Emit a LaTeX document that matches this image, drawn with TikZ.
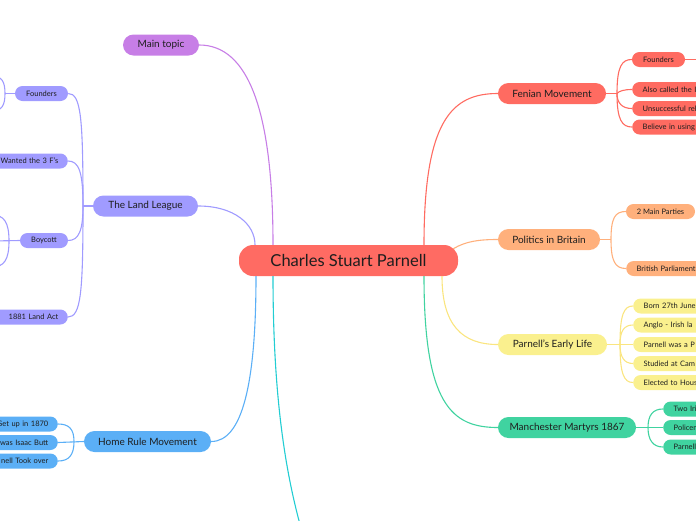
\documentclass[tikz,border=0pt]{standalone}
\usepackage{fontspec}
\setmainfont{Lato}
\definecolor{cred}{HTML}{FF6B63}
\definecolor{cpurple}{HTML}{C77EE6}
\definecolor{cleague}{HTML}{A09BFF}
\definecolor{chome}{HTML}{5BAFF6}
\definecolor{ccyan}{HTML}{22CDD3}
\definecolor{cfen}{HTML}{FF6B61}
\definecolor{corange}{HTML}{FFB07C}
\definecolor{cyellow}{HTML}{FAF08E}
\definecolor{cgreen}{HTML}{40D3A0}
\definecolor{ctext}{HTML}{1E1E1E}
\tikzset{
  central/.style={fill=cred, text=ctext, rounded corners=14pt, minimum width=219pt, minimum height=31pt, inner sep=0pt, font=\fontsize{16.5}{16.5}\selectfont},
  topic/.style={text=ctext, rounded corners=10.5pt, minimum height=21pt, inner sep=0pt, font=\fontsize{10}{10}\selectfont},
  sub/.style={text=ctext, rounded corners=7.5pt, minimum height=15pt, inner ysep=0pt, font=\fontsize{7.5}{7.5}\selectfont},
  subl/.style={sub, anchor=east, text width=72pt, align=right, inner xsep=9.5pt},
  subr/.style={sub, anchor=west, text width=90pt, align=left, inner xsep=10.5pt},
  subc/.style={sub, inner xsep=0pt},
  link/.style={line width=1.1pt}
}
\begin{document}
\begin{tikzpicture}[x=1pt,y=-1pt]
\useasboundingbox (0,0) rectangle (696,520);
\clip (0,0) rectangle (696,520);

% central
\node[central] (c) at (348.5,260.5) {Charles Stuart Parnell};

% topics
\node[topic, fill=cpurple, minimum width=76pt] (mt) at (161,45) {Main topic};
\node[topic, fill=cleague, minimum width=105pt] (ll) at (145.5,206) {The Land League};
\node[topic, fill=chome, minimum width=127pt] (hr) at (147.5,441.5) {Home Rule Movement};
\node[topic, fill=cfen, minimum width=108pt] (fm) at (552,93.5) {Fenian Movement};
\node[topic, fill=corange, minimum width=102pt] (pb) at (549,239.5) {Politics in Britain};
\node[topic, fill=cyellow, minimum width=109pt] (el) at (552.5,344.5) {Parnell's Early Life};
\node[topic, fill=cgreen, minimum width=138pt] (mm) at (567,427.5) {Manchester Martyrs 1867};
\coordinate (bt) at (303,535);

% topic connectors
\draw[link, cpurple] ([xshift=-75.5pt]c.north) .. controls (273,110) and (248,45) .. (mt.east);
\draw[link, cleague] ([xshift=-93.5pt]c.north) .. controls (255,224) and (234,206) .. (ll.east);
\draw[link, chome] ([xshift=-92.5pt]c.south) .. controls (256,385) and (242,441.5) .. (hr.east);
\draw[link, ccyan] ([xshift=-75.5pt]c.south) .. controls (273,390) and (284,470) .. (bt);
\draw[link, cfen] ([xshift=75.5pt]c.north) .. controls (424,120) and (452,93.5) .. (fm.west);
\draw[link, corange] ([xshift=-5pt,yshift=-4pt]c.north east) .. controls (466,241) and (480,239.5) .. (pb.west);
\draw[link, cyellow!90!orange] ([xshift=93.5pt]c.south) .. controls (442,325) and (462,344.5) .. (el.west);
\draw[link, cgreen] ([xshift=75.5pt]c.south) .. controls (424,405) and (452,427.5) .. (mm.west);

% Land League children
\node[subc, fill=cleague, minimum width=53pt] (lf) at (41.5,93.5) {Founders};
\node[subl, fill=cleague] (lw) at (68,161) {Wanted the 3 F's};
\node[subc, fill=cleague, minimum width=48pt] (lb) at (44,240.5) {Boycott};
\node[subl, fill=cleague] (la) at (68,317) {1881 Land Act};
\coordinate (llj) at (83,206);
\draw[link, cleague] (ll.west) -- (llj);
\draw[link, cleague] (llj) .. controls (83,118) and (81,93.5) .. (lf.east);
\draw[link, cleague] (llj) .. controls (83,172) and (79,161) .. (lw.east);
\draw[link, cleague] (llj) .. controls (83,230) and (79,240.5) .. (lb.east);
\draw[link, cleague] (llj) .. controls (83,292) and (81,317) .. (la.east);
% grandchildren (off canvas)
\coordinate (lfj) at (5,93.5);
\coordinate (lfa) at (-8,76);
\coordinate (lfb) at (-8,111);
\draw[link, cleague] (lf.west) -- (lfj);
\draw[link, cleague] (lfj) .. controls (5,82) and (2,76) .. (lfa);
\draw[link, cleague] (lfj) .. controls (5,105) and (2,111) .. (lfb);
\coordinate (lbj) at (9,241);
\coordinate (lba) at (-8,215);
\coordinate (lbb) at (-8,241);
\coordinate (lbc) at (-8,267);
\draw[link, cleague] (lb.west) -- (lbb);
\draw[link, cleague] (lbj) .. controls (9,222) and (4,215) .. (lba);
\draw[link, cleague] (lbj) .. controls (9,260) and (4,267) .. (lbc);

% Home Rule children
\node[subl, fill=chome] (h1) at (58,424) {Set up in 1870};
\node[subl, fill=chome] (h2) at (58,442.5) {was Isaac Butt};
\node[subl, fill=chome] (h3) at (58,461) {nell Took over};
\coordinate (hrj) at (74,441.5);
\draw[link, chome] (hr.west) -- (h2.east);
\draw[link, chome] (hrj) .. controls (74,429) and (69,424) .. (h1.east);
\draw[link, chome] (hrj) .. controls (74,455) and (69,461) .. (h3.east);

% Fenian children
\node[subc, fill=cfen, minimum width=53pt] (f1) at (658.5,59.5) {Founders};
\node[subr, fill=cfen] (f2) at (632,89.5) {Also called the I};
\node[subr, fill=cfen] (f3) at (632,108.5) {Unsuccessful reb};
\node[subr, fill=cfen] (f4) at (632,127) {Believe in using};
\coordinate (fmj) at (617,93.5);
\coordinate (f1x) at (705,59.5);
\draw[link, cfen] (fm.east) -- (fmj);
\draw[link, cfen] (fmj) .. controls (617,66) and (622,59.5) .. (f1.west);
\draw[link, cfen] (fmj) .. controls (619,91) and (624,89.5) .. (f2.west);
\draw[link, cfen] (fmj) .. controls (617,103) and (622,108.5) .. (f3.west);
\draw[link, cfen] (fmj) .. controls (617,120) and (622,127) .. (f4.west);
\draw[link, cfen] (f1.east) -- (f1x);

% Politics children
\node[subc, fill=corange, minimum width=69pt] (p1) at (660.5,211.5) {2 Main Parties};
\node[subr, fill=corange] (p2) at (626,268.5) {British Parliament};
\coordinate (pbj) at (611,239.5);
\draw[link, corange] (pb.east) -- (pbj);
\draw[link, corange] (pbj) .. controls (611,218) and (615,211.5) .. (p1.west);
\draw[link, corange] (pbj) .. controls (611,261) and (615,268.5) .. (p2.west);

% Early life children
\node[subr, fill=cyellow] (e1) at (633,306) {Born 27th June};
\node[subr, fill=cyellow] (e2) at (633,325) {Anglo - Irish la};
\node[subr, fill=cyellow] (e3) at (633,344.5) {Parnell was a P};
\node[subr, fill=cyellow] (e4) at (633,363.5) {Studied at Cam};
\node[subr, fill=cyellow] (e5) at (633,382.5) {Elected to Hous};
\coordinate (elj) at (620,344.5);
\draw[link, cyellow!90!orange] (el.east) -- (e3.west);
\draw[link, cyellow!90!orange] (elj) .. controls (620,314) and (624,306) .. (e1.west);
\draw[link, cyellow!90!orange] (elj) .. controls (620,331) and (624,325) .. (e2.west);
\draw[link, cyellow!90!orange] (elj) .. controls (620,357) and (624,363.5) .. (e4.west);
\draw[link, cyellow!90!orange] (elj) .. controls (620,374) and (624,382.5) .. (e5.west);

% Manchester children
\node[subr, fill=cgreen] (m1) at (663,409) {Two Iri};
\node[subr, fill=cgreen] (m2) at (663,427.5) {Policem};
\node[subr, fill=cgreen] (m3) at (663,447) {Parnell};
\coordinate (mmj) at (648,427.5);
\draw[link, cgreen] (mm.east) -- (m2.west);
\draw[link, cgreen] (mmj) .. controls (648,415) and (653,409) .. (m1.west);
\draw[link, cgreen] (mmj) .. controls (648,440) and (653,447) .. (m3.west);
\end{tikzpicture}
\end{document}
